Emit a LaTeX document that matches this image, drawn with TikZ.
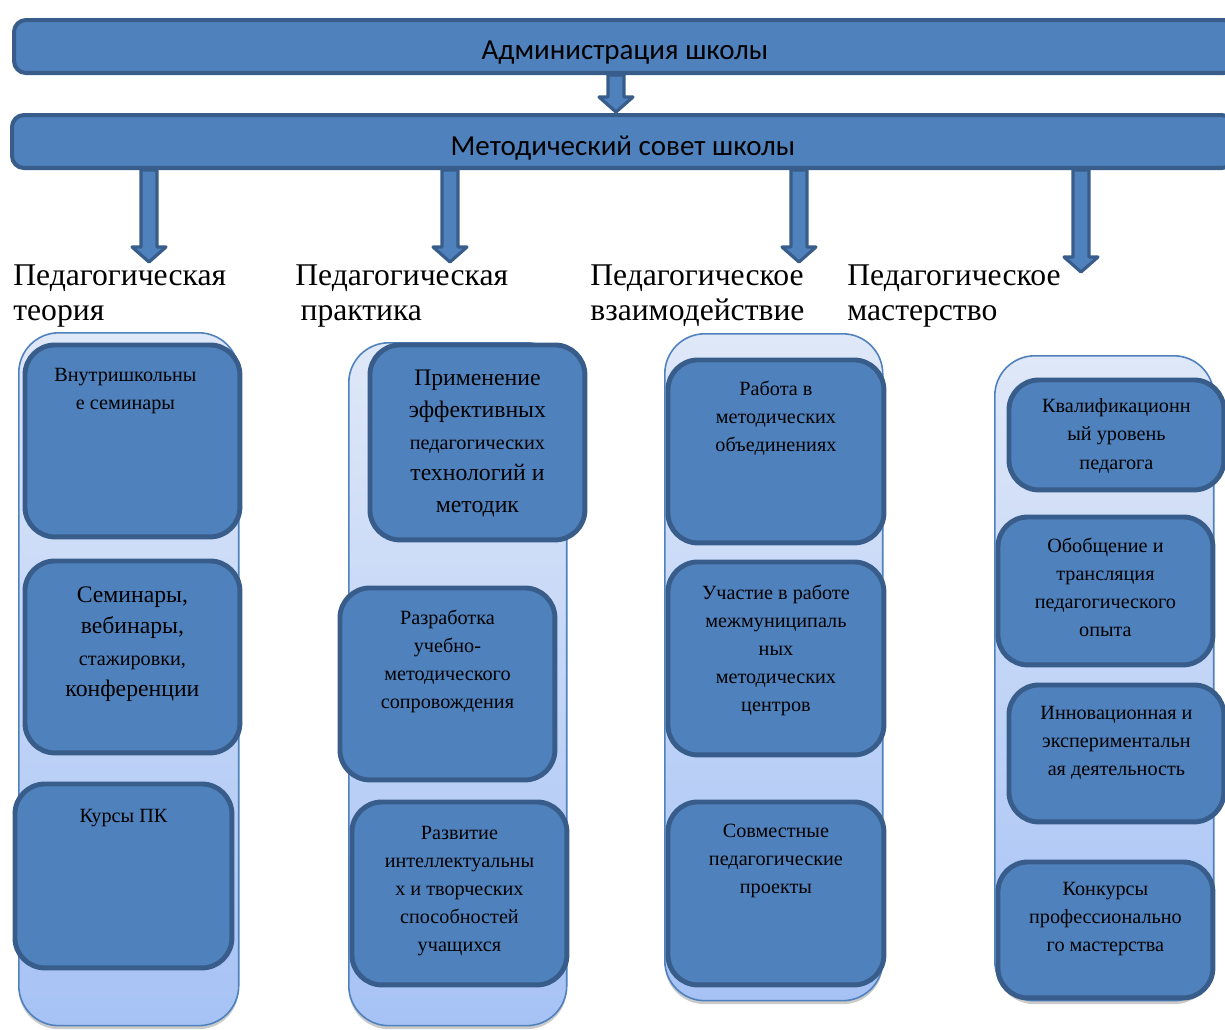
\documentclass[tikz,border=0pt]{standalone}
\usepackage{fontspec}
\setmainfont{Liberation Serif}
\newfontfamily\barfont{Carlito}
\usetikzlibrary{positioning,calc,shadows}

\definecolor{boxblue}{HTML}{4F81BD}
\definecolor{boxedge}{HTML}{385D8A}
\definecolor{panetop}{HTML}{DFE8F8}
\definecolor{panebot}{HTML}{A6C2F5}

% block arrow: shaft from #1 down to the tip #2
\newcommand{\blkarrow}[2]{%
  \draw[blk arrow] ($(#1)+(-8,0)$) -- ($(#2)+(-8,-15)$) -- ($(#2)+(-17,-15)$) -- (#2)
    -- ($(#2)+(17,-15)$) -- ($(#2)+(8,-15)$) -- ($(#1)+(8,0)$) -- cycle;}

\begin{document}
\begin{tikzpicture}[x=0.02cm,y=-0.02cm,
            barbox/.style={draw=boxedge,line width=2.3pt,fill=boxblue,rounded corners=0.24cm,
                anchor=north west,minimum height=1.06cm,minimum width=24.44cm,
                font=\barfont\fontsize{16.5}{20}\selectfont},
            pane/.style={draw=boxblue,line width=0.9pt,top color=panetop,bottom color=panebot,
                rounded corners=0.8cm,anchor=north west,
                drop shadow={shadow xshift=0pt,shadow yshift=-2pt,opacity=0.35,fill=black!60}},
            itembox/.style={draw=boxedge,line width=2.8pt,fill=boxblue,rounded corners=0.6cm,
                anchor=north west,minimum width=4.3cm},
            smalltxt/.style={align=center,inner sep=0pt,font=\fontsize{11.5}{16}\selectfont},
            bigtxt/.style={align=center,inner sep=0pt,font=\fontsize{13.5}{18}\selectfont},
            head/.style={align=left,inner sep=0pt,anchor=north west,font=\fontsize{18}{20}\selectfont},
            blk arrow/.style={draw=boxedge,line width=1.8pt,fill=boxblue,line join=round}
            ]
            \useasboundingbox (0,0) rectangle (1225,1029);

            \node[barbox](admin) at (12,18){\raisebox{-0.25cm}[0pt][0pt]{Администрация школы}};
            \node[barbox](sovet) at (10,113){\raisebox{-0.27cm}[0pt][0pt]{Методический совет школы}};

            \node[head](h1) at (13,264){Педагогическая\\теория};
            \node[head](h2) at (295,264){Педагогическая\\\hspace{3pt}практика};
            \node[head](h3) at (590,264){Педагогическое\\взаимодействие};
            \node[head](h4) at (847,264){Педагогическое\\мастерство};

            % arrows
            \coordinate (t0) at (616,112);
            \coordinate (t1) at (149,262);
            \coordinate (t2) at (450,262);
            \coordinate (t3) at (799,262);
            \coordinate (t4) at (1081,272);
            \coordinate (s0) at (admin.south -| t0);
            \coordinate (s1) at (sovet.south -| t1);
            \coordinate (s2) at (sovet.south -| t2);
            \coordinate (s3) at (sovet.south -| t3);
            \coordinate (s4) at (sovet.south -| t4);
            \blkarrow{s0}{t0}
            \blkarrow{s1}{t1}
            \blkarrow{s2}{t2}
            \blkarrow{s3}{t3}
            \blkarrow{s4}{t4}

            % columns
            \node[pane,minimum width=4.4cm,minimum height=13.86cm](p1) at (18,332){};
            \node[pane,minimum width=4.36cm,minimum height=13.66cm](p2) at (348,342){};
            \node[pane,minimum width=4.36cm,minimum height=13.34cm](p3) at (664,333){};
            \node[pane,minimum width=4.38cm,minimum height=12.9cm](p4) at (994,355){};

            \node[itembox,minimum height=3.84cm](b1a) at (22.5,342.5){};
            \node[itembox,minimum height=3.84cm](b1b) at (22.5,558.5){};
            \node[itembox,minimum width=4.34cm,minimum height=3.68cm](b1c) at (12.5,781.5){};

            \node[itembox,minimum height=3.9cm](b2a) at (367.5,342.5){};
            \node[itembox,minimum height=3.84cm](b2b) at (337.5,585.5){};
            \node[itembox,minimum height=3.66cm](b2c) at (349.5,799.5){};

            \node[itembox,minimum width=4.32cm,minimum height=3.66cm](b3a) at (665.5,357.5){};
            \node[itembox,minimum width=4.32cm,minimum height=3.86cm](b3b) at (665.5,559.5){};
            \node[itembox,minimum width=4.32cm,minimum height=3.66cm](b3c) at (665.5,799.5){};

            \node[itembox,minimum height=2.2cm](b4a) at (1006.5,377.5){};
            \node[itembox,minimum height=2.96cm](b4b) at (995.5,514.5){};
            \node[itembox,minimum height=2.74cm](b4c) at (1006.5,682.5){};
            \node[itembox,minimum height=2.72cm](b4d) at (995.5,859.5){};

            % texts
            \node[smalltxt,below=0.5cm of b1a.north,anchor=north,xshift=-0.14cm](x1a){Внутришкольны\\е семинары};
            \node[bigtxt,below=0.55cm of b1b.north,anchor=north](x1b){Семинары,\\вебинары,\\{\fontsize{11.5}{18}\selectfont стажировки,}\\конференции};
            \node[smalltxt,below=0.55cm of b1c.north,anchor=north](x1c){Курсы ПК};

            \node[bigtxt,below=0.55cm of b2a.north,anchor=north](x2a){Применение\\эффективных\\{\fontsize{11.5}{18}\selectfont педагогических}\\технологий и\\методик};
            \node[smalltxt,below=0.48cm of b2b.north,anchor=north](x2b){Разработка\\учебно-\\методического\\сопровождения};
            \node[smalltxt,below=0.52cm of b2c.north,anchor=north](x2c){Развитие\\интеллектуальны\\х и творческих\\способностей\\учащихся};

            \node[smalltxt,below=0.46cm of b3a.north,anchor=north](x3a){Работа в\\методических\\объединениях};
            \node[smalltxt,below=0.5cm of b3b.north,anchor=north](x3b){Участие в работе\\межмуниципаль\\ных\\методических\\центров};
            \node[smalltxt,below=0.48cm of b3c.north,anchor=north](x3c){Совместные\\педагогические\\проекты};

            \node[smalltxt,below=0.42cm of b4a.north,anchor=north](x4a){Квалификационн\\ый уровень\\педагога};
            \node[smalltxt,below=0.46cm of b4b.north,anchor=north](x4b){Обобщение и\\трансляция\\педагогического\\опыта};
            \node[smalltxt,below=0.46cm of b4c.north,anchor=north](x4c){Инновационная и\\экспериментальн\\ая деятельность};
            \node[smalltxt,below=0.44cm of b4d.north,anchor=north](x4d){Конкурсы\\профессионально\\го мастерства};

        \end{tikzpicture}
\end{document}
